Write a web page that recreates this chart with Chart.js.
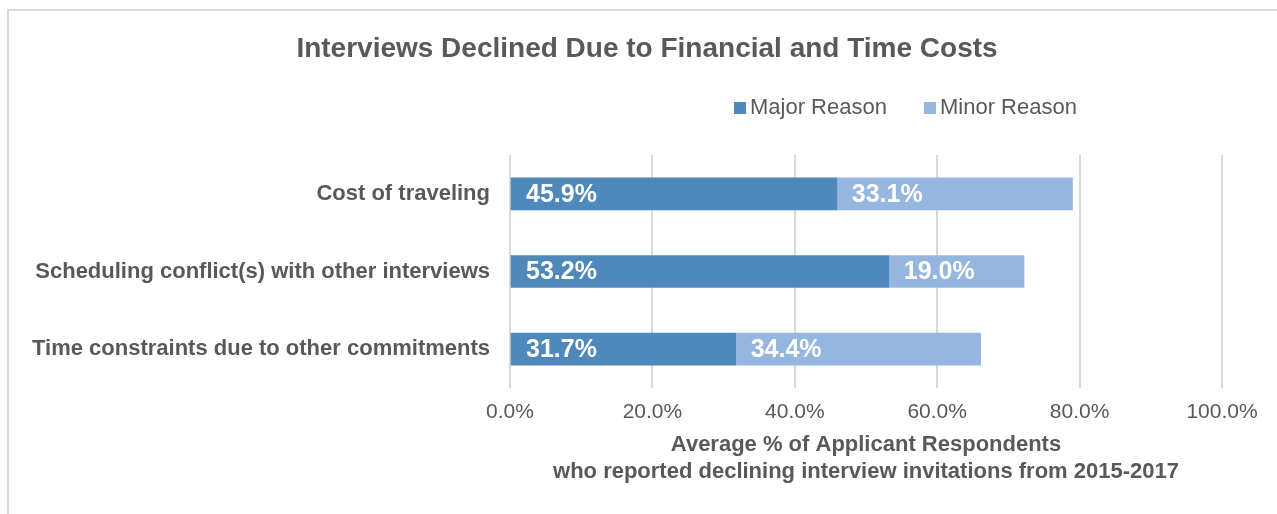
<!DOCTYPE html>
<html>
<head>
<meta charset="utf-8">
<script src="https://cdn.jsdelivr.net/npm/chart.js@4"></script>
<style>
  html, body { margin: 0; padding: 0; background: #fff; }
  #wrap { position: relative; width: 1277px; height: 514px; }
  #frame { position: absolute; left: 7px; top: 9px; right: -5px; bottom: -5px; border: 2px solid #d9d9d9; }
  canvas { position: absolute; left: 0; top: 0; }
</style>
</head>
<body>
<div id="wrap">
  <div id="frame"></div>
  <canvas id="declined" width="1277" height="514"></canvas>
</div>
<script>
const categories = [
  'Cost of traveling',
  'Scheduling conflict(s) with other interviews',
  'Time constraints due to other commitments'
];
const majorReason = [45.9, 53.2, 31.7];
const minorReason = [33.1, 19.0, 34.4];
const xTicks = [0, 20, 40, 60, 80, 100];

const textGrey = '#595959';
const majorColor = '#4f88bb';
const minorColor = '#95b7df';
const fontFam = '"Liberation Sans", Arial, sans-serif';

// title + legend drawn by hand so they sit where the original has them
const headerPlugin = {
  id: 'header',
  afterDraw(chart) {
    const ctx = chart.ctx;
    ctx.save();
    ctx.fillStyle = textGrey;
    ctx.font = 'bold 28px ' + fontFam;
    ctx.textAlign = 'center';
    ctx.textBaseline = 'middle';
    ctx.fillText('Interviews Declined Due to Financial and Time Costs', 647, 49);

    ctx.font = '22px ' + fontFam;
    ctx.textAlign = 'left';
    let x = 734;
    chart.data.datasets.forEach(ds => {
      ctx.fillStyle = ds.backgroundColor;
      ctx.fillRect(x, 102, 12, 12);
      ctx.fillStyle = textGrey;
      ctx.fillText(ds.label, x + 16, 108);
      x += 16 + ctx.measureText(ds.label).width + 37;
    });
    ctx.restore();
  }
};

// white bold value labels at the start of each segment
const valueLabels = {
  id: 'valueLabels',
  afterDatasetsDraw(chart) {
    const ctx = chart.ctx;
    ctx.save();
    ctx.fillStyle = '#ffffff';
    ctx.font = 'bold 25px ' + fontFam;
    ctx.textAlign = 'left';
    ctx.textBaseline = 'middle';
    chart.data.datasets.forEach((ds, i) => {
      chart.getDatasetMeta(i).data.forEach((bar, j) => {
        const left = Math.min(bar.x, bar.base);
        ctx.fillText(ds.data[j].toFixed(1) + '%', left + 15, bar.y + 1);
      });
    });
    ctx.restore();
  }
};

new Chart(document.getElementById('declined'), {
  type: 'bar',
  data: {
    labels: categories,
    datasets: [
      { label: 'Major Reason', data: majorReason, backgroundColor: majorColor },
      { label: 'Minor Reason', data: minorReason, backgroundColor: minorColor }
    ]
  },
  options: {
    indexAxis: 'y',
    responsive: false,
    animation: false,
    layout: { padding: { left: 0, right: 55, top: 155, bottom: 0 } },
    datasets: { bar: { barThickness: 32 } },
    plugins: {
      legend: { display: false },
      title: { display: false },
      tooltip: { enabled: false }
    },
    scales: {
      x: {
        stacked: true,
        min: 0,
        max: 100,
        afterBuildTicks(scale) {
          scale.ticks = xTicks.map(v => ({ value: v }));
        },
        afterFit(scale) { scale.height = 126; },
        border: { display: false },
        grid: { color: '#d9d9d9', lineWidth: 2, drawTicks: false },
        ticks: {
          padding: 12,
          color: textGrey,
          font: { family: fontFam, size: 21 },
          callback: v => v.toFixed(1) + '%'
        },
        title: {
          display: true,
          text: ['Average % of Applicant Respondents', 'who reported declining interview invitations from 2015-2017'],
          color: textGrey,
          font: { family: fontFam, size: 22, weight: 'bold', lineHeight: 27 / 22 },
          padding: { top: 0, bottom: 29 }
        }
      },
      y: {
        stacked: true,
        afterFit(scale) { scale.width = 510; },
        border: { display: false },
        grid: { display: false },
        ticks: {
          padding: 12,
          color: textGrey,
          font: { family: fontFam, size: 22, weight: 'bold' }
        }
      }
    }
  },
  plugins: [headerPlugin, valueLabels]
});
</script>
</body>
</html>
